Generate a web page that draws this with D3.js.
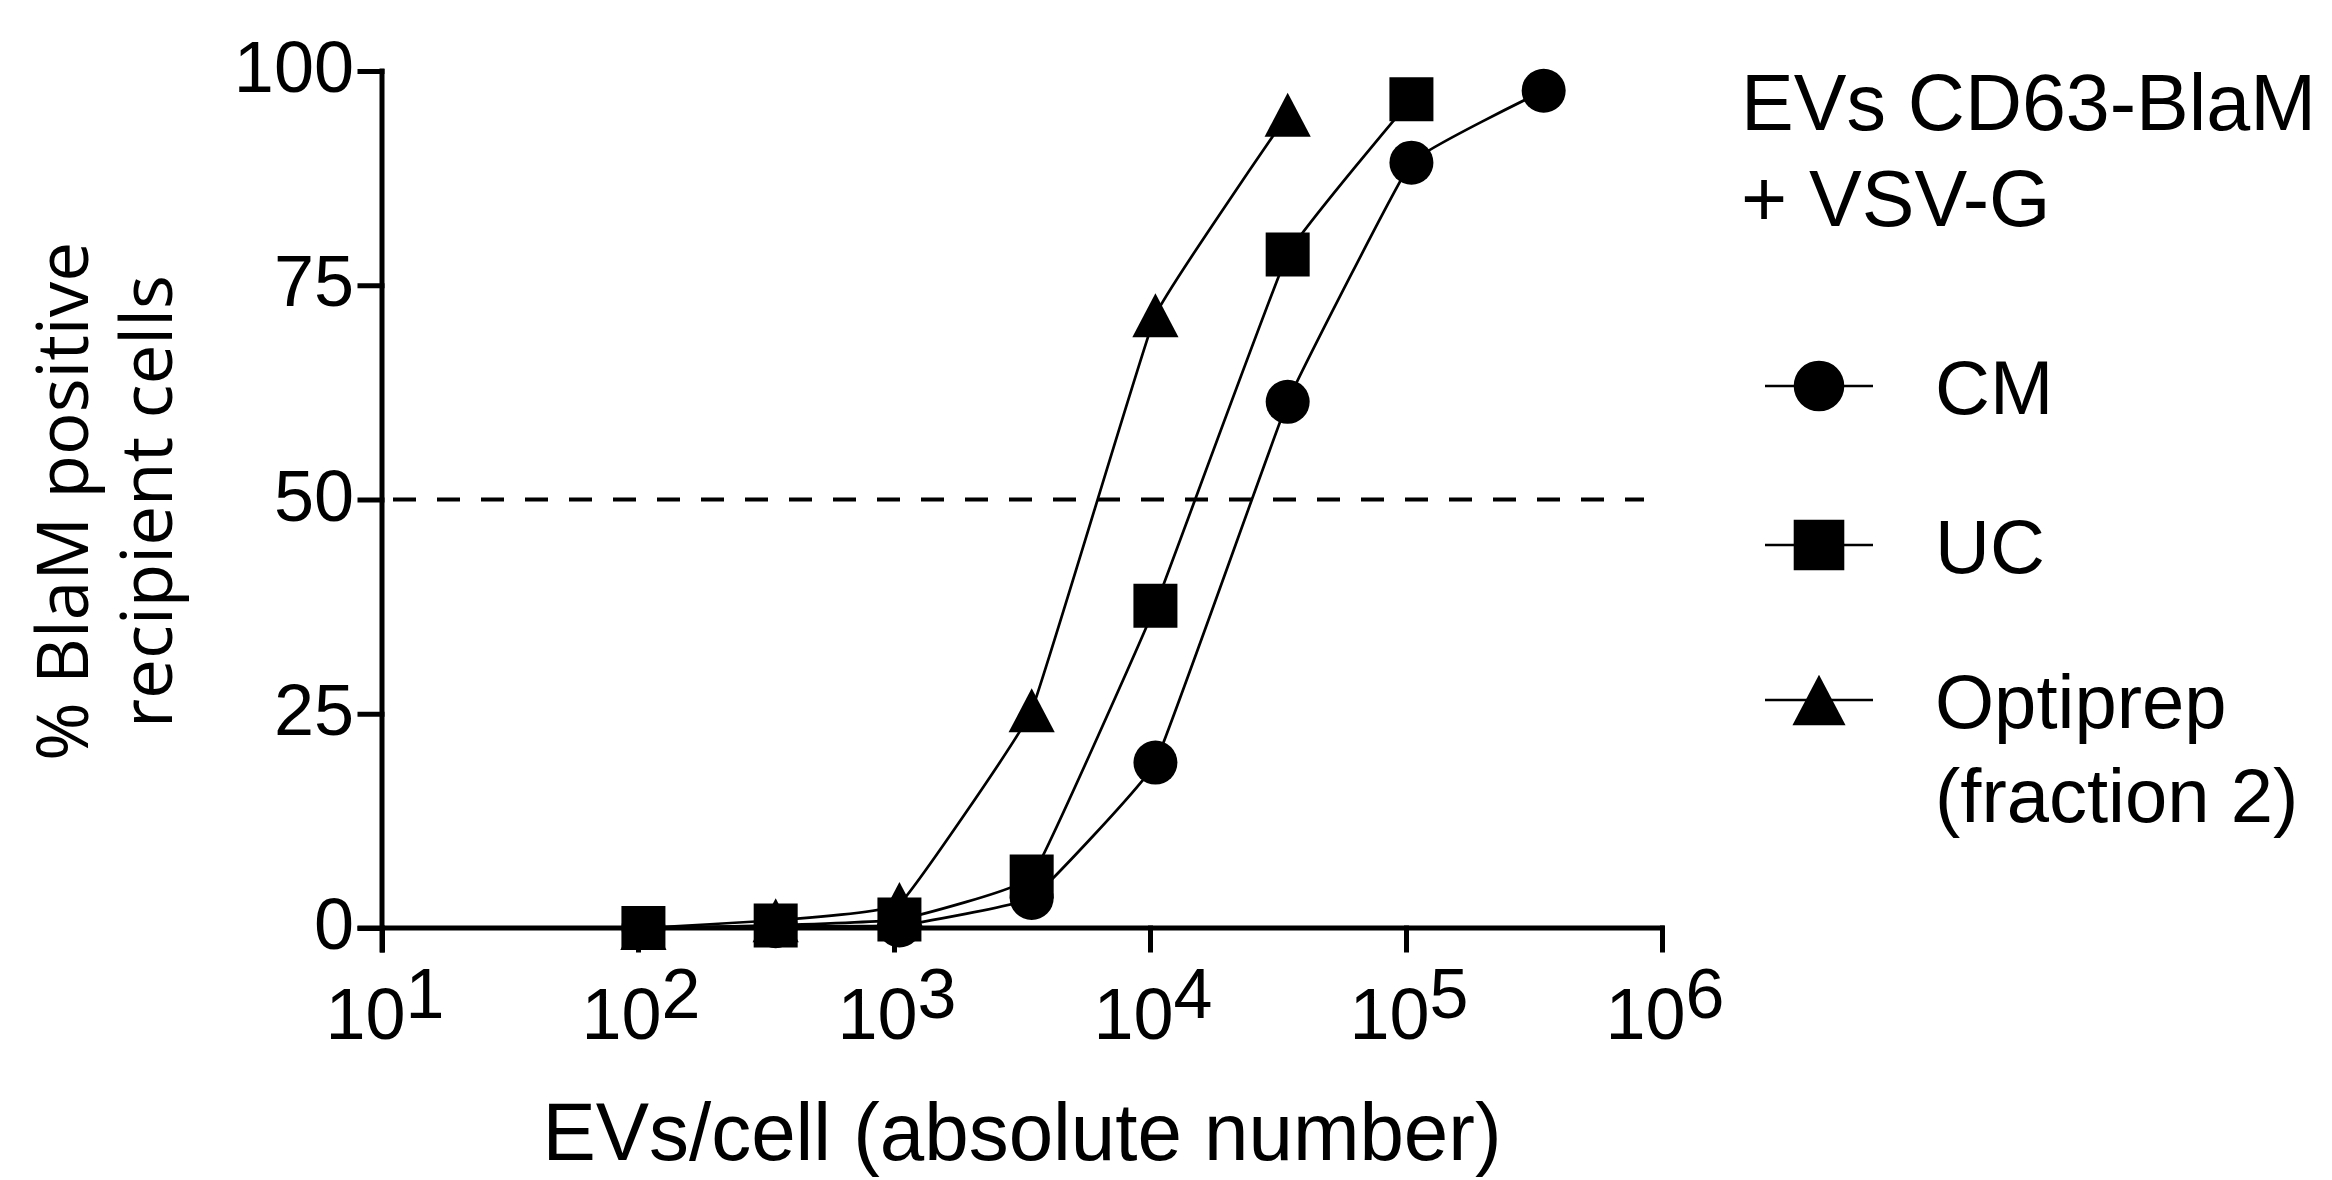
<!DOCTYPE html>
<meta charset="utf-8">
<head>
    <script type="text/javascript" src="https://cdn.jsdelivr.net/npm/d3@7"></script>
    <style>
        body { margin: 0; background: #fff; }
        text { font-family: "Liberation Sans", Arial, sans-serif; fill: #000; }
        .ytitle { font-family: "Open Sans", "Noto Sans", sans-serif; }
    </style>
</head>
<body>
<div id="chart"></div>
<script>

    // data (x = EVs per cell, y = % BlaM positive cells)
    let evs_per_cell = [105, 345, 1050, 3450, 10500, 34500, 105000, 345000]
    let cm_values = [0, 0.2, 0.3, 3.5, 19.3, 61.4, 89.3, 97.7]
    let uc_values = [0, 0.3, 1, 6, 37.6, 78.6, 96.7]
    let optiprep_values = [0, 0.9, 2.8, 25.4, 71.5, 94.9]

    let x_tick_powers = [1, 2, 3, 4, 5, 6]
    let y_ticks = [0, 25, 50, 75, 100]
    let threshold = 50

    let series_names = ["CM", "UC", "Optiprep"]
    let legend_labels = [["CM"], ["UC"], ["Optiprep", "(fraction 2)"]]
    let legend_title = ["EVs CD63-BlaM", "+ VSV-G"]

    let svg_width = 2332
    let svg_height = 1180

    let padding = { top: 71, right: 670, bottom: 252, left: 382 }

    let svg = d3.select("#chart")
        .append("svg")
        .attr("width", svg_width)
        .attr("height", svg_height)

    let x = d3.scaleLog()
        .domain([10, 1e6])
        .range([padding.left, svg_width - padding.right])

    let y = d3.scaleLinear()
        .domain([0, 100])
        .range([svg_height - padding.bottom, padding.top])

    // triangle centred on its bounding box, like prism draws it
    let boxTriangle = {
        draw: function (context, size) {
            let w = Math.sqrt(size) * 1.05
            let h = Math.sqrt(size)
            context.moveTo(0, -h / 2)
            context.lineTo(w / 2, h / 2)
            context.lineTo(-w / 2, h / 2)
            context.closePath()
        }
    }

    function symbolFor(name, k) {
        if (name === "CM") return d3.symbol().type(d3.symbolCircle).size(Math.PI * 22 * 22 * k * k)
        if (name === "UC") return d3.symbol().type(d3.symbolSquare).size(44 * 44 * k * k)
        return d3.symbol().type(boxTriangle).size(44 * 44 * k * k)
    }

    let series = [
        { name: "CM", values: cm_values },
        { name: "UC", values: uc_values },
        { name: "Optiprep", values: optiprep_values }
    ]

    // dashed 50% line
    svg.append("line")
        .attr("x1", x(10) + 11)
        .attr("x2", x(1e6) - 18)
        .attr("y1", y(threshold))
        .attr("y2", y(threshold))
        .attr("stroke", "#000")
        .attr("stroke-width", 4)
        .attr("stroke-dasharray", "23,21")

    // axes
    let xAxis = d3.axisBottom(x)
        .tickValues(x_tick_powers.map(p => Math.pow(10, p)))
        .tickSize(22)
        .tickFormat("")

    let yAxis = d3.axisLeft(y)
        .tickValues(y_ticks)
        .tickSize(22)
        .tickFormat("")

    let gx = svg.append("g")
        .attr("transform", "translate(0," + y(0) + ")")
        .call(xAxis)

    let gy = svg.append("g")
        .attr("transform", "translate(" + x(10) + ",0)")
        .call(yAxis)

    gx.select(".domain").attr("d", "M" + (x(10) - 22) + ",0H" + x(1e6))
    gy.select(".domain").attr("d", "M0," + y(100) + "V" + (y(0) + 22))
    svg.selectAll(".domain, .tick line")
        .attr("stroke", "#000")
        .attr("stroke-width", 5)
        .attr("stroke-linecap", "square")

    // x tick labels 10^n
    x_tick_powers.forEach(function (p) {
        let t = svg.append("text")
            .attr("x", x(Math.pow(10, p)) + 3)
            .attr("y", 1039)
            .attr("text-anchor", "middle")
            .attr("font-size", 72)
        t.append("tspan").text("10")
        t.append("tspan").attr("dy", -21).attr("font-size", 70).text(p)
    })

    // y tick labels
    y_ticks.forEach(function (v) {
        svg.append("text")
            .attr("x", 354)
            .attr("y", y(v) + 21)
            .attr("text-anchor", "end")
            .attr("font-size", 72)
            .text(v)
    })

    // axis titles
    svg.append("text")
        .attr("x", (x(10) + x(1e6)) / 2)
        .attr("y", 1160)
        .attr("text-anchor", "middle")
        .attr("font-size", 82)
        .attr("textLength", 959)
        .attr("lengthAdjust", "spacingAndGlyphs")
        .text("EVs/cell (absolute number)")

    let ytitle = svg.append("text")
        .attr("class", "ytitle")
        .attr("transform", "translate(0," + ((y(0) + y(100)) / 2 + 2) + ") rotate(-90)")
        .attr("text-anchor", "middle")
        .attr("font-size", 71)
    ytitle.append("tspan").attr("x", 0).attr("y", 88).text("% BlaM positive")
    ytitle.append("tspan").attr("x", 0).attr("y", 172).text("recipient cells")

    // connecting lines, only a slight bend between points
    let line = d3.line()
        .x(d => x(d[0]))
        .y(d => y(d[1]))
        .curve(d3.curveCardinal.tension(0.75))

    series.forEach(function (s) {
        let pts = s.values.map((v, i) => [evs_per_cell[i], v])
        svg.append("path")
            .attr("d", line(pts))
            .attr("fill", "none")
            .attr("stroke", "#000")
            .attr("stroke-width", 2.7)
    })

    // markers
    series.forEach(function (s) {
        svg.append("g")
            .selectAll("path")
            .data(s.values)
            .enter()
            .append("path")
            .attr("transform", (d, i) => "translate(" + x(evs_per_cell[i]) + "," + y(d) + ")")
            .attr("d", symbolFor(s.name, 1))
            .attr("fill", "#000")
    })

    // legend
    legend_title.forEach(function (t, i) {
        svg.append("text")
            .attr("x", 1741)
            .attr("y", 130 + i * 96)
            .attr("font-size", 79)
            .text(t)
    })

    let legend_rows = [386, 545, 700]

    series_names.forEach(function (name, i) {
        let ly = legend_rows[i]
        svg.append("line")
            .attr("x1", 1765)
            .attr("x2", 1873)
            .attr("y1", ly)
            .attr("y2", ly)
            .attr("stroke", "#000")
            .attr("stroke-width", 2.7)
        svg.append("path")
            .attr("transform", "translate(1819," + ly + ")")
            .attr("d", symbolFor(name, 1.15))
            .attr("fill", "#000")
        legend_labels[i].forEach(function (t, j) {
            svg.append("text")
                .attr("x", 1935)
                .attr("y", ly + 28 + j * 94)
                .attr("font-size", 76)
                .text(t)
        })
    })

</script>
</body>
</html>
